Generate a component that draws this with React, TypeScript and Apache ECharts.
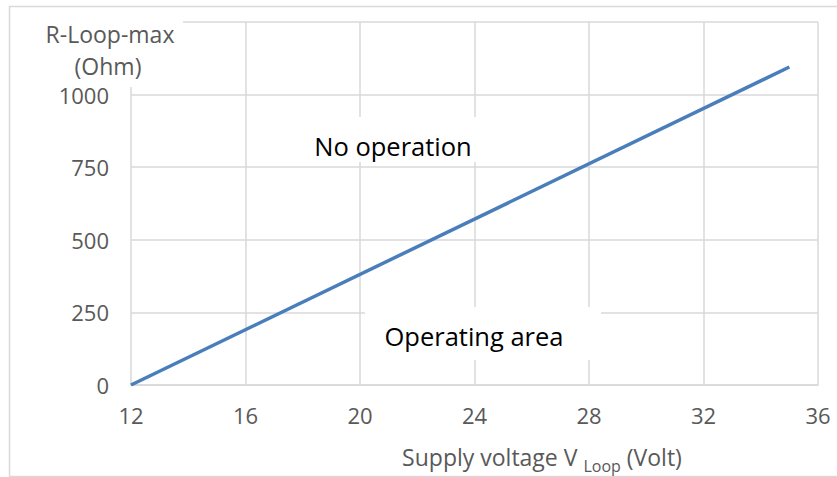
import React, { useEffect, useRef } from "react";
import * as echarts from "echarts";

const voltage = [12, 35];
const resistance = [0, 1095];
const xTicks = { min: 12, max: 36, interval: 4 };
const yTicks = { min: 0, max: 1250, interval: 250 };
const yTitle = ["R-Loop-max", "(Ohm)"];
const xTitleParts = ["Supply voltage V ", "Loop", " (Volt)"];
const upperLabel = "No operation";
const lowerLabel = "Operating area";

const FONT = "Open Sans";
const GRAY = "#595959";
const GRID = "#d9d9d9";

export default function App() {
  const ref = useRef<HTMLDivElement>(null);
  useEffect(() => {
    if (!ref.current) return;
    const chart = echarts.init(ref.current, null, { renderer: "svg" });
    const data = voltage.map((v, i) => [v, resistance[i]]);
    chart.setOption({
      animation: false,
      backgroundColor: "#ffffff",
      grid: { left: 131, right: 19, top: 22, bottom: 92 },
      xAxis: {
        type: "value",
        min: xTicks.min,
        max: xTicks.max,
        interval: xTicks.interval,
        axisLine: { show: true, lineStyle: { color: GRID, width: 1.5 } },
        axisTick: { show: false },
        splitLine: { show: true, lineStyle: { color: GRID, width: 1.5 } },
        axisLabel: { color: GRAY, fontFamily: FONT, fontSize: 22, margin: 19 },
      },
      yAxis: {
        type: "value",
        min: yTicks.min,
        max: yTicks.max,
        interval: yTicks.interval,
        axisLine: { show: false },
        axisTick: { show: false },
        splitLine: { show: true, lineStyle: { color: GRID, width: 1.5 } },
        axisLabel: {
          color: GRAY,
          fontFamily: FONT,
          fontSize: 22,
          margin: 22,
          formatter: (v: number) => (v >= yTicks.max ? "" : String(v)),
        },
      },
      series: [
        {
          type: "line",
          data,
          showSymbol: false,
          symbol: "none",
          lineStyle: { color: "#4A7EBB", width: 3.5 },
          z: 5,
        },
      ],
      graphic: [
        {
          type: "rect",
          z: 50,
          silent: true,
          shape: { x: 9.5, y: 6.5, width: 840, height: 470 },
          style: { fill: "none", stroke: GRID, lineWidth: 1.5 },
        },
        {
          type: "rect",
          z: 60,
          silent: true,
          shape: { x: 12, y: 10, width: 171, height: 77 },
          style: { fill: "#ffffff" },
        },
        {
          type: "text",
          z: 61,
          silent: true,
          x: 110,
          y: 34,
          style: {
            text: yTitle[0],
            fill: GRAY,
            font: `23px "${FONT}"`,
            align: "center",
            verticalAlign: "middle",
          },
        },
        {
          type: "text",
          z: 61,
          silent: true,
          x: 108,
          y: 66,
          style: {
            text: yTitle[1],
            fill: GRAY,
            font: `23px "${FONT}"`,
            align: "center",
            verticalAlign: "middle",
          },
        },
        {
          type: "rect",
          z: 60,
          silent: true,
          shape: { x: 296, y: 117, width: 194, height: 45 },
          style: { fill: "#ffffff" },
        },
        {
          type: "text",
          z: 61,
          silent: true,
          x: 393,
          y: 146,
          style: {
            text: upperLabel,
            fill: "#000000",
            font: `25.5px "${FONT}"`,
            align: "center",
            verticalAlign: "middle",
          },
        },
        {
          type: "rect",
          z: 60,
          silent: true,
          shape: { x: 365, y: 307, width: 236, height: 53 },
          style: { fill: "#ffffff" },
        },
        {
          type: "text",
          z: 61,
          silent: true,
          x: 474,
          y: 336,
          style: {
            text: lowerLabel,
            fill: "#000000",
            font: `25.5px "${FONT}"`,
            align: "center",
            verticalAlign: "middle",
          },
        },
        {
          type: "text",
          z: 61,
          silent: true,
          x: 542,
          y: 457,
          style: {
            text: `{a|${xTitleParts[0]}}{b|${xTitleParts[1]}}{a|${xTitleParts[2]}}`,
            align: "center",
            verticalAlign: "middle",
            rich: {
              a: {
                fill: GRAY,
                fontFamily: FONT,
                fontSize: 23,
                lineHeight: 34,
                verticalAlign: "middle",
              },
              b: {
                fill: GRAY,
                fontFamily: FONT,
                fontSize: 16,
                lineHeight: 34,
                verticalAlign: "bottom",
              },
            },
          },
        },
      ],
    });
    return () => chart.dispose();
  }, []);
  return (
    <div
      ref={ref}
      style={{ position: "fixed", left: 0, top: 0, width: 837, height: 477 }}
    />
  );
}
